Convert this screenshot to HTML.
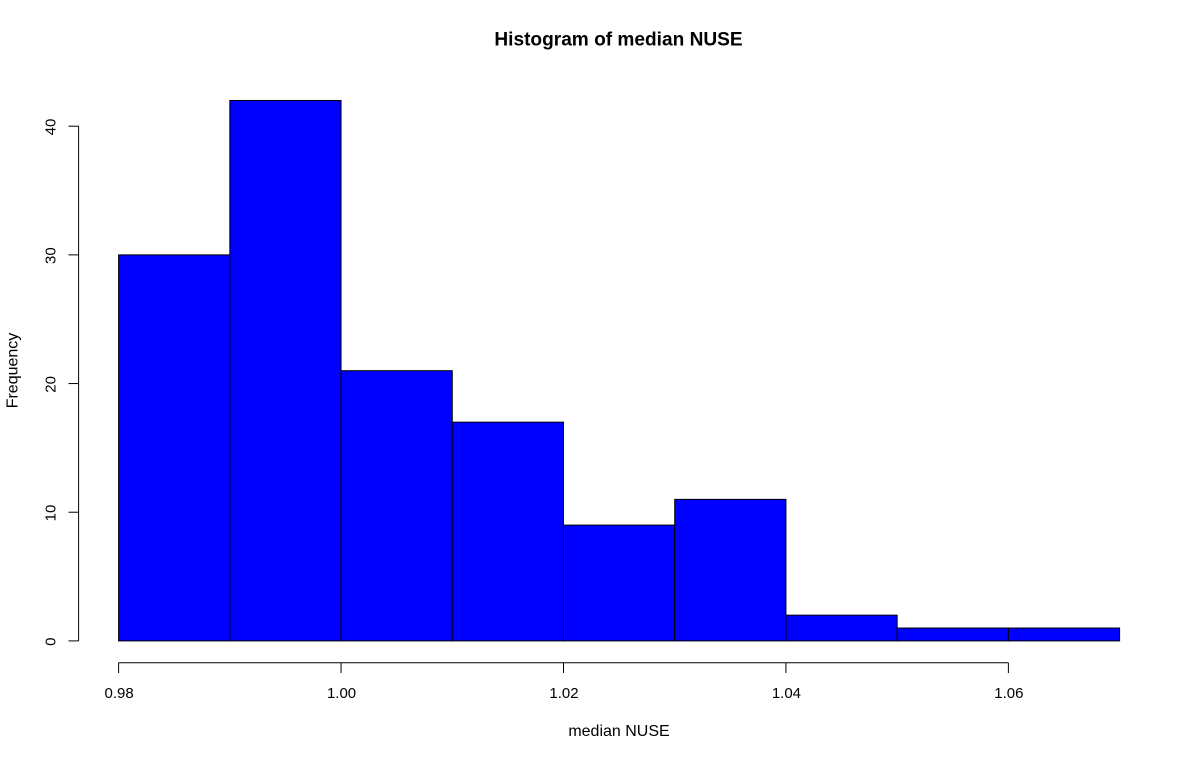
<!DOCTYPE html>
<html>
<head>
<meta charset="utf-8">
<style>
html,body{margin:0;padding:0;background:#fff;}
svg{display:block;}
text{font-family:"Liberation Sans",Arial,sans-serif;fill:#000;}
</style>
</head>
<body>
<svg id="chart" width="1200" height="761" viewBox="0 0 1200 761" xmlns="http://www.w3.org/2000/svg">
<rect x="0" y="0" width="1200" height="761" fill="#fff"/>
<text x="618.5" y="45.5" font-size="19.1" font-weight="bold" text-anchor="middle">Histogram of median NUSE</text>
<text x="619" y="736" font-size="16" text-anchor="middle">median NUSE</text>
<text transform="translate(17.6,370.5) rotate(-90)" font-size="16" text-anchor="middle">Frequency</text>
<g id="bars"></g>
<g id="x-axis"></g>
<g id="y-axis"></g>
</svg>
<script>
const binEdges = [0.98, 0.99, 1.00, 1.01, 1.02, 1.03, 1.04, 1.05, 1.06, 1.07];
const frequencies = [30, 42, 21, 17, 9, 11, 2, 1, 1];
const xTicks = [0.98, 1.00, 1.02, 1.04, 1.06];
const xTickLabels = ["0.98", "1.00", "1.02", "1.04", "1.06"];
const yTicks = [0, 10, 20, 30, 40];
const yTickLabels = ["0", "10", "20", "30", "40"];

const NS = 'http://www.w3.org/2000/svg';
function xScale(v) { return 118.6 + (v - 0.98) * (1119.6 - 118.6) / (1.07 - 0.98); }
function yScale(v) { return 640.9 - v * (640.9 - 126.2) / 40; }
function make(tag, attrs, parent) {
  const el = document.createElementNS(NS, tag);
  for (const k in attrs) el.setAttribute(k, attrs[k]);
  parent.appendChild(el);
  return el;
}
const barsG = document.getElementById('bars');
frequencies.forEach(function (f, i) {
  const x0 = xScale(binEdges[i]), x1 = xScale(binEdges[i + 1]);
  const r = make('rect', {x: x0, y: yScale(f), width: x1 - x0, height: yScale(0) - yScale(f), fill: '#0000ff', stroke: '#000', 'stroke-width': 1}, barsG);
  
  
});
const xG = document.getElementById('x-axis');
const xLine = make('line', {x1: xScale(xTicks[0]), x2: xScale(xTicks[xTicks.length - 1]), y1: 662.7, y2: 662.7, stroke: '#000'}, xG);


xTicks.forEach(function (t, i) {
  const x = xScale(t);
  const tick = make('line', {x1: x, x2: x, y1: 662.7, y2: 673, stroke: '#000'}, xG);
  
  
  const label = make('text', {x: x + 0.5, y: 698, 'font-size': 15, 'text-anchor': 'middle'}, xG);
  label.textContent = xTickLabels[i];
  
  
});
const yG = document.getElementById('y-axis');
const yLine = make('line', {x1: 78.6, x2: 78.6, y1: yScale(yTicks[0]), y2: yScale(yTicks[yTicks.length - 1]), stroke: '#000'}, yG);


yTicks.forEach(function (t, i) {
  const y = yScale(t);
  const tick = make('line', {x1: 68.5, x2: 78.6, y1: y, y2: y, stroke: '#000'}, yG);
  
  
  const label = make('text', {transform: 'translate(55.5,' + (y + 0.8) + ') rotate(-90)', 'font-size': 15, 'text-anchor': 'middle'}, yG);
  label.textContent = yTickLabels[i];
  
  
});
</script>
</body>
</html>
